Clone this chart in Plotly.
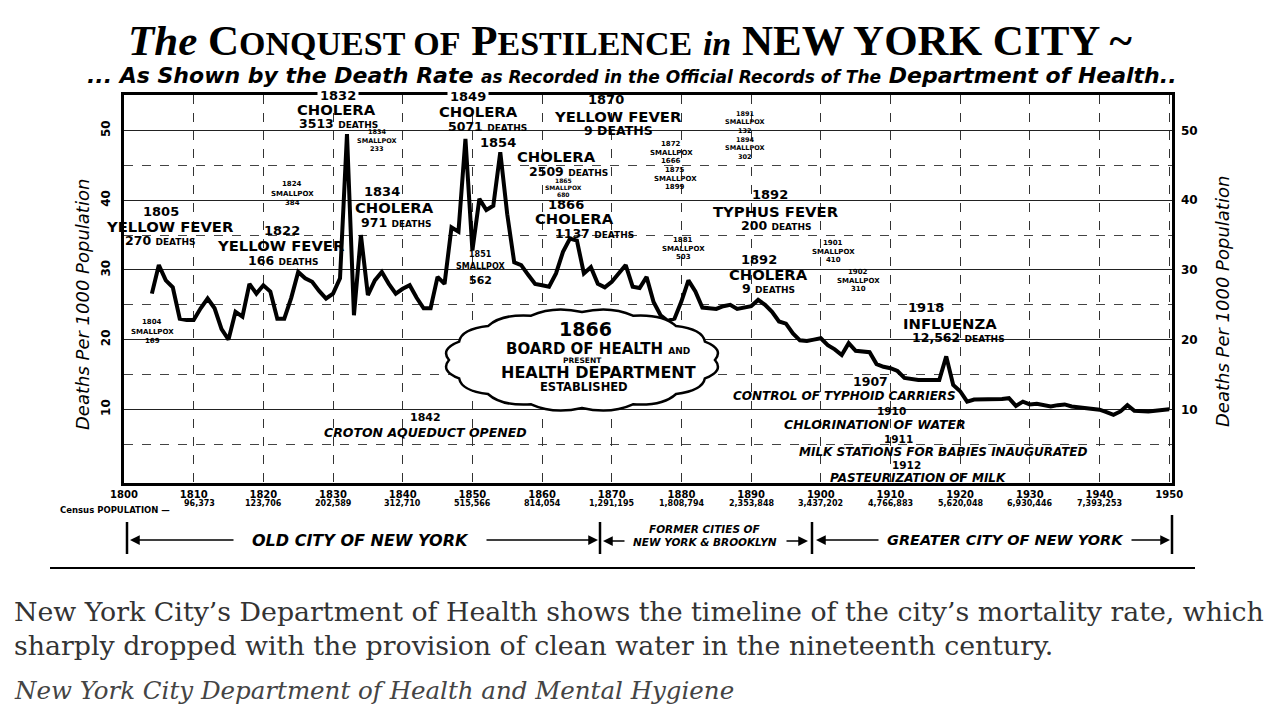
import math
import plotly.graph_objects as go

# ---------------- data ----------------
years = [1804, 1805, 1806, 1807, 1808, 1809, 1810, 1811, 1812, 1813, 1814, 1815, 1816, 1817,
         1818, 1819, 1820, 1821, 1822, 1823, 1824, 1825, 1826, 1827, 1828, 1829, 1830, 1831,
         1832, 1833, 1834, 1835, 1836, 1837, 1838, 1839, 1840, 1841, 1842, 1843, 1844, 1845,
         1846, 1847, 1848, 1849, 1850, 1851, 1852, 1853, 1854, 1855, 1856, 1857, 1858, 1859,
         1860, 1861, 1862, 1863, 1864, 1865, 1866, 1867, 1868, 1869, 1870, 1871, 1872, 1873,
         1874, 1875, 1876, 1877, 1878, 1879, 1880, 1881, 1882, 1883, 1884, 1885, 1886, 1887,
         1888, 1889, 1890, 1891, 1892, 1893, 1894, 1895, 1896, 1897, 1898, 1899, 1900, 1901,
         1902, 1903, 1904, 1905, 1906, 1907, 1908, 1909, 1910, 1911, 1912, 1913, 1914, 1915,
         1916, 1917, 1918, 1919, 1920, 1921, 1922, 1923, 1924, 1925, 1926, 1927, 1928, 1929,
         1930, 1931, 1932, 1933, 1934, 1935, 1936, 1937, 1938, 1939, 1940, 1941, 1942, 1943,
         1944, 1945, 1946, 1947, 1948, 1949, 1950]
rates = [26.6, 30.7, 28.5, 27.5, 23.0, 22.8, 22.8, 24.5, 25.9, 24.5, 21.5, 20.0, 24.0, 23.3,
         28.0, 26.6, 27.8, 26.9, 23.0, 23.0, 26.0, 29.7, 28.8, 28.3, 27.0, 25.9, 26.6, 28.8,
         49.5, 23.5, 35.0, 26.4, 28.5, 29.7, 28.0, 26.6, 27.3, 27.8, 26.0, 24.5, 24.5, 29.0,
         28.0, 36.1, 35.5, 48.8, 32.8, 40.2, 38.6, 39.2, 46.9, 38.0, 31.1, 30.7, 29.3, 28.0,
         27.8, 27.6, 29.5, 32.6, 34.5, 34.2, 29.5, 30.4, 28.0, 27.5, 28.3, 29.5, 30.7, 27.6,
         27.4, 29.0, 25.4, 23.5, 22.7, 23.0, 25.5, 28.5, 26.9, 24.6, 24.5, 24.4, 24.8, 25.0,
         24.4, 24.6, 24.8, 25.7, 25.0, 24.0, 22.6, 22.3, 20.9, 19.9, 19.8, 20.0, 20.2, 19.2,
         18.6, 17.8, 19.5, 18.4, 18.3, 18.2, 16.5, 16.1, 15.9, 15.5, 14.5, 14.3, 14.2, 14.2,
         14.2, 14.2, 17.6, 13.5, 12.6, 11.1, 11.4, 11.4, 11.4, 11.4, 11.5, 11.6, 10.5, 11.1,
         10.7, 10.8, 10.6, 10.4, 10.6, 10.7, 10.4, 10.3, 10.1, 10.0, 9.95, 9.6, 9.2, 9.7,
         10.6, 9.8, 9.7, 9.7, 9.8, 9.9, 10.0]

tick_years = list(range(1800, 1951, 10))
tick_labels = [str(y) for y in tick_years]
y_ticks = [10, 20, 30, 40, 50]
y_minor = [5, 15, 25, 35, 45]

census_years = [1810, 1820, 1830, 1840, 1850, 1860, 1870, 1880, 1890, 1900, 1910, 1920, 1930, 1940]
census_pop = ["96,373", "123,706", "202,589", "312,710", "515,566", "814,054", "1,291,195",
              "1,808,794", "2,353,848", "3,437,202", "4,766,883", "5,620,048", "6,930,446",
              "7,393,253"]

# ---------------- layout geometry (reference pixels) ----------------
W, H = 1280, 720
OFF = 8                      # page body margin of the html page
PL, PR, PT, PB = 124, 1172, 95, 483
LBL = "DejaVu Sans"
SERIF = "Liberation Serif"


def P(x, y):
    return (x - PL) / (PR - PL), (PB - y) / (PB - PT)


ann = []


def lab(x, y, text, size, style="b", bg=None, family=LBL, color="black", angle=0,
        xanchor="center"):
    xp, yp = P(x, y)
    t = text
    if "b" in style:
        t = f"<b>{t}</b>"
    if "i" in style:
        t = f"<i>{t}</i>"
    d = dict(x=xp, y=yp, xref="paper", yref="paper", text=t, showarrow=False,
             font=dict(family=family, size=size, color=color), xanchor=xanchor,
             yanchor="middle", textangle=angle)
    if bg:
        d.update(bgcolor=bg, borderpad=2)
    ann.append(d)


def deaths(n, small=9):
    return f"{n} <span style='font-size:{small}px'>DEATHS</span>"


def tiny(x, y0, lines, size=7, step=8.5):
    for i, t in enumerate(lines):
        lab(x, y0 + i * step, t, size)


HD = 14.8   # heading size
YR = 13     # year size
NB = 12.5   # numbers

# --- event labels ---
lab(338, 95, "1832", YR, bg="white")
lab(336, 109, "CHOLERA", HD)
lab(338, 124, deaths("3513"), NB)
tiny(377, 132, ["1834", "SMALLPOX", "233"], size=6.5)

lab(468, 96, "1849", YR, bg="white")
lab(478, 112, "CHOLERA", HD)
lab(487, 126, deaths("5071"), NB)
lab(498, 142, "1854", YR)
lab(556, 156, "CHOLERA", HD)
lab(568, 171.5, deaths("2509"), NB)
tiny(563, 180, ["1865", "SMALLPOX", "680"], size=6, step=7)
lab(566, 204, "1866", YR)
lab(574, 218.5, "CHOLERA", HD)
lab(594, 234, deaths("1137"), NB)

lab(606, 100, "1870", YR)
lab(618, 116, "YELLOW FEVER", HD)
lab(618, 130, "9 DEATHS", NB)
tiny(671, 144, ["1872", "SMALLPOX", "1666"])
tiny(675, 170, ["1875", "SMALLPOX", "1899"])
tiny(745, 114, ["1891", "SMALLPOX", "132", "1894", "SMALLPOX", "302"], size=6.5, step=8.5)
tiny(683, 240, ["1881", "SMALLPOX", "503"])

lab(770, 194, "1892", YR)
lab(776, 211, "TYPHUS FEVER", HD)
lab(776, 225, deaths("200"), NB)
lab(759, 259, "1892", YR)
lab(768, 274, "CHOLERA", HD)
lab(768, 288, deaths("9"), NB)
tiny(833, 243, ["1901", "SMALLPOX", "410"])
tiny(858, 272, ["1902", "SMALLPOX", "310"])

lab(926, 307, "1918", YR)
lab(950, 323, "INFLUENZA", HD)
lab(958, 337, deaths("12,562"), NB)

lab(870, 381, "1907", 12.5)
lab(844, 396, "CONTROL OF TYPHOID CARRIERS", 12, style="bi")
lab(891, 410.5, "1910", 10.5)
lab(875, 424.5, "CHLORINATION OF WATER", 12.5, style="bi")
lab(898, 438.5, "1911", 10.5)
lab(943, 451.5, "MILK STATIONS FOR BABIES INAUGURATED", 12, style="bi")
lab(906, 464.5, "1912", 10.5)
lab(918, 477.5, "PASTEURIZATION OF MILK", 12, style="bi")

lab(425, 417, "1842", 11)
lab(425, 432, "CROTON AQUEDUCT OPENED", 12.5, style="bi")

lab(161, 211, "1805", YR)
lab(170, 226, "YELLOW FEVER", HD)
lab(160, 240, deaths("270"), NB)
lab(282, 230, "1822", YR)
lab(281, 246, "YELLOW FEVER", HD)
lab(283, 260, deaths("166"), NB)
tiny(292, 184, ["1824", "SMALLPOX", "384"], step=9.5)
tiny(152, 322, ["1804", "SMALLPOX", "169"], step=9.5)
lab(382, 191, "1834", YR)
lab(394, 207.5, "CHOLERA", HD)
lab(396, 222.5, deaths("971"), NB)
lab(480, 254, "1851", 8)
lab(480, 266, "SMALLPOX", 8)
lab(480, 280, "562", 11)

# cloud text
lab(585, 329, "1866", 19)
lab(598, 349, "BOARD OF HEALTH <span style='font-size:9px'>AND</span>", 15)
lab(582, 360, "PRESENT", 7.5)
lab(598, 372, "HEALTH DEPARTMENT", 16)
lab(584, 387, "ESTABLISHED", 11.5)

# census row
cy = (PB - 510) / (PB - PT)
ann.append(dict(x=P(172, 0)[0], y=cy, xref="paper", yref="paper", xanchor="right",
                yanchor="middle", showarrow=False, text="<b>Census POPULATION —</b>",
                font=dict(family=LBL, size=8.5, color="black")))
for yr, pop in zip(census_years, census_pop):
    ann.append(dict(x=yr + (0.8 if yr == 1810 else 0), y=cy, xref="x", yref="paper",
                    showarrow=False, text=f"<b>{pop}</b>",
                    font=dict(family=LBL, size=8, color="black")))

# bracket row
by = 540
lab(360, by, "OLD CITY OF NEW YORK", 16, style="bi")
lab(705, by - 11, "FORMER CITIES OF", 10.5, style="bi")
lab(705, by + 1.5, "NEW YORK &amp; BROOKLYN", 10.5, style="bi")
lab(1005, by, "GREATER CITY OF NEW YORK", 14.5, style="bi")


def arrow(x_head, x_tail, y):
    xp, yp = P(x_head, y)
    ann.append(dict(x=xp, y=yp, xref="paper", yref="paper", ax=x_tail - x_head, ay=0,
                    axref="pixel", ayref="pixel", text="", showarrow=True, arrowhead=2,
                    arrowsize=1.3, arrowwidth=1.5, arrowcolor="black"))


arrow(130, 235, by)
arrow(598, 485, by)
arrow(603, 626, by + 1)
arrow(808, 785, by + 1)
arrow(816, 880, by)
arrow(1170, 1130, by)

# axis titles
lab(82, 305, "Deaths Per 1000 Population", 18, style="i", angle=-90)
lab(1222, 302, "Deaths Per 1000 Population", 18, style="i", angle=-90)

# title + subtitle
small = "font-size:34px"
title = (f"<i>The</i> C<span style='{small}'>ONQUEST OF</span> P<span style='{small}'>ESTILENCE</span>"
         f" <i><span style='{small}'>in</span></i> NEW YORK CITY ~")
lab(630, 40, title, 43, family=SERIF)
sub = ("... As Shown by the Death Rate <span style='font-size:17px'>as Recorded in the Official "
       "Records of The</span> Department of Health..")
lab(632, 76, sub, 22, style="bi", family="DejaVu Sans")

# caption
for (yy, txt, st, sz, col) in [
    (611, "New York City’s Department of Health shows the timeline of the city’s mortality rate, which", "", 26.8, "#333333"),
    (645, "sharply dropped with the provision of clean water in the nineteenth century.", "", 26.8, "#333333"),
    (690, "New York City Department of Health and Mental Hygiene", "i", 24.5, "#444444"),
]:
    lab(12, yy, txt, sz, style=st, family="DejaVu Serif", color=col, xanchor="left")

# ---------------- shapes ----------------
shapes = []


def pline(x0, y0, x1, y1, w=2):
    a, b = P(x0, y0)
    c, d = P(x1, y1)
    shapes.append(dict(type="line", xref="paper", yref="paper", x0=a, y0=b, x1=c, y1=d,
                       line=dict(color="black", width=w)))


for bx in (127, 600, 812):
    pline(bx, 522, bx, 554, 2.5)
pline(1172, 515, 1172, 554, 2.5)
pline(50, 568, 1195, 568, 2)

# cloud
cx, cyy, rx, ry, N = 582, 360, 133, 48, 16
pts = []
for i in range(N + 1):
    a = 2 * math.pi * i / N
    pts.append((cx + rx * math.cos(a), cyy + ry * math.sin(a)))
path = ""
for i in range(N):
    x0, y0 = pts[i]
    am = 2 * math.pi * (i + 0.5) / N
    qx, qy = cx + rx * 1.09 * math.cos(am), cyy + ry * 1.16 * math.sin(am)
    x1, y1 = pts[i + 1]
    if i == 0:
        a, b = P(x0, y0)
        path += f"M {a:.4f},{b:.4f} "
    c1, c2 = P(qx, qy)
    e1, e2 = P(x1, y1)
    path += f"Q {c1:.4f},{c2:.4f} {e1:.4f},{e2:.4f} "
path += "Z"
shapes.append(dict(type="path", xref="paper", yref="paper", path=path, fillcolor="white",
                   line=dict(color="black", width=2.5), layer="above"))

# ---------------- figure ----------------
fig = go.Figure()
fig.add_trace(go.Scatter(x=years, y=rates, mode="lines", line=dict(color="black", width=4),
                         hoverinfo="x+y", showlegend=False))
fig.add_trace(go.Scatter(x=years, y=rates, mode="lines", line=dict(width=0), yaxis="y2",
                         hoverinfo="skip", showlegend=False))

yr_range = [-0.57, 55.1]
fig.update_layout(
    width=W, height=H, paper_bgcolor="white", plot_bgcolor="white",
    margin=dict(l=PL - OFF, r=W - (PR - OFF), t=PT - OFF, b=H - (PB - OFF), autoexpand=False),
    xaxis=dict(range=[1800, 1950.4], tickmode="array", tickvals=tick_years, ticktext=tick_labels,
               showgrid=True, gridcolor="#333333", gridwidth=1.2, griddash="dash",
               showline=True, linecolor="black", linewidth=2.5, mirror=True, ticks="",
               ticklabelstandoff=0,
               tickfont=dict(family=LBL, size=10, color="black", weight="bold"), zeroline=False),
    yaxis=dict(range=yr_range, tickmode="array", tickvals=y_ticks, showgrid=True,
               gridcolor="#222222", gridwidth=1.3, showline=True, linecolor="black",
               linewidth=2.5, mirror=True, ticks="", tickangle=-90, ticklabelstandoff=6,
               tickfont=dict(family=LBL, size=12, color="black", weight="bold"), zeroline=False,
               minor=dict(tickmode="array", tickvals=y_minor, showgrid=True, gridcolor="#444444",
                          gridwidth=1, griddash="dash", ticks="")),
    yaxis2=dict(range=yr_range, overlaying="y", side="right", tickmode="array", tickvals=y_ticks,
                showgrid=False, zeroline=False, ticks="", ticklabelstandoff=8,
                tickfont=dict(family=LBL, size=12, color="black", weight="bold")),
    annotations=ann, shapes=shapes, showlegend=False,
)

fig.write_html("out.html")
